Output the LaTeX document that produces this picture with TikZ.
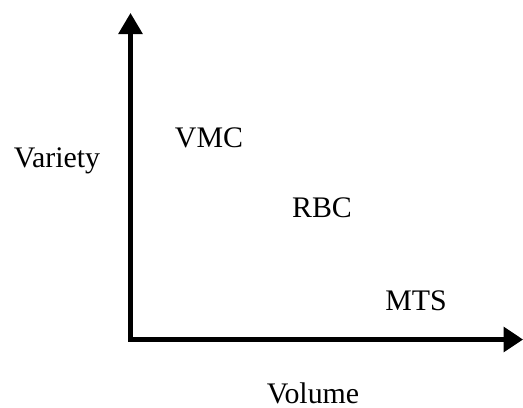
\documentclass[tikz,border=0pt]{standalone}
\usepackage{fontspec}
\setmainfont{Liberation Serif}
\usetikzlibrary{arrows.meta}

\begin{document}
\begin{tikzpicture}[x=0.02cm,y=-0.02cm,
  axis/.style={line width=2.3pt,{Triangle[length=12pt,width=13.5pt]}-{Triangle[length=11pt,width=14pt]}},
  label node/.style={anchor=base,inner sep=0pt,font=\fontsize{17}{20}\selectfont}]

  \useasboundingbox (0,0) rectangle (523,407);

  \coordinate (o) at (130.5,339.5);
  \coordinate (ytip) at (130.5,13);
  \coordinate (xtip) at (523,339.5);

  \draw[axis] (ytip) -- (o) -- (xtip);

  \node[label node] (variety) at (57,167) {Variety};
  \node[label node] (volume) at (313,403) {Volume};

  \node[label node] (vmc) at (209,147) {VMC};
  \node[label node] (rbc) at (322,217) {RBC};
  \node[label node] (mts) at (416,310) {MTS};

\end{tikzpicture}
\end{document}
